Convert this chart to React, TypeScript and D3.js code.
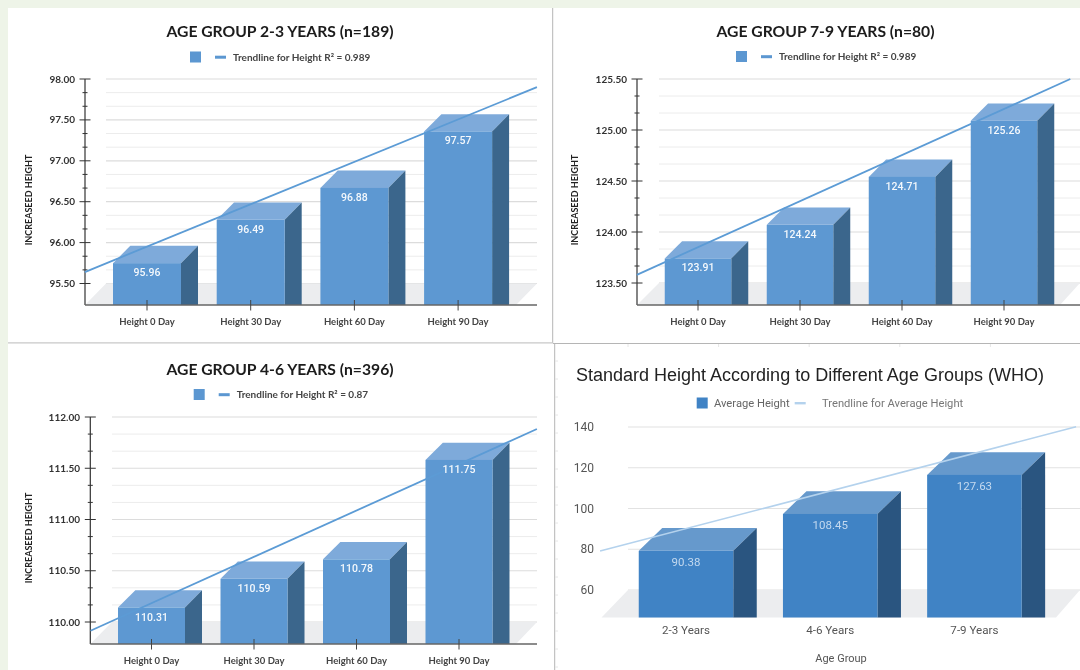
import React from "react";
import * as d3 from "d3";

const dayLabels = ["Height 0 Day", "Height 30 Day", "Height 60 Day", "Height 90 Day"];
const ageLabels = ["2-3 Years", "4-6 Years", "7-9 Years"];

const values2to3 = [95.96, 96.49, 96.88, 97.57];
const values7to9 = [123.91, 124.24, 124.71, 125.26];
const values4to6 = [110.31, 110.59, 110.78, 111.75];
const valuesWho = [90.38, 108.45, 127.63];

const trendIdx2to3 = [-0.6, 3.76];
const trendVal2to3 = [95.64, 97.9];
const trendIdx7to9 = [-0.6, 3.65];
const trendVal7to9 = [123.58, 125.5];
const trendIdx4to6 = [-0.595, 3.76];
const trendVal4to6 = [109.915, 111.883];
const trendIdxWho = [-0.596, 2.705];
const trendValWho = [79.1, 140.1];

const ticks2to3 = [95.5, 96, 96.5, 97, 97.5, 98];
const ticks7to9 = [123.5, 124, 124.5, 125, 125.5];
const ticks4to6 = [110, 110.5, 111, 111.5, 112];
const ticksWho = [60, 80, 100, 120, 140];

const CAL = "Lato, 'Open Sans', sans-serif";
const ROB = "Roboto, 'Liberation Sans', sans-serif";

type PanelCfg = {
  cats: string[]; vals: number[]; trendIdx: number[]; trendVal: number[]; ticks: number[];
  yLo: number; yHi: number; axisX: number; baseY: number; floorDx: number; rightX: number; floorRightBottom: number;
  c0: number; step: number; barW: number; dx: number; dy: number;
};

function ExcelPanel({ p, title, titleX, titleY, legendText, lx, ly, labelX, axisTitleX, axisTitleY, catY }: any) {
  const cfg: PanelCfg = p;
  const y = d3.scaleLinear().domain([cfg.ticks[0], cfg.ticks[cfg.ticks.length - 1]]).range([cfg.yLo, cfg.yHi]);
  const n = cfg.cats.length;
  const x = d3.scaleBand().domain(cfg.cats)
    .range([cfg.c0 - cfg.step / 2, cfg.c0 + (n - 0.5) * cfg.step])
    .paddingInner(1 - cfg.barW / cfg.step).paddingOuter((1 - cfg.barW / cfg.step) / 2);
  const tx = d3.scaleLinear().domain([0, n - 1]).range([cfg.c0, cfg.c0 + (n - 1) * cfg.step]);
  const trend = d3.line<number>().x((d) => tx(d)).y((_, i) => y(cfg.trendVal[i]));
  const lo = cfg.ticks[0];
  const minor = d3.range(0, (cfg.ticks.length - 1) * 3 + 1).map((i) => lo + (i * 0.5) / 3);
  const isMajor = (i: number) => i % 3 === 0;
  const gx0 = cfg.axisX + cfg.floorDx;
  return (
    <g>
      <text x={titleX} y={titleY} textAnchor="middle" fontFamily={CAL} fontSize={15.7} fontWeight={700} fill="#1a1a1a">{title}</text>
      <rect x={lx} y={ly} width={11} height={11} fill="#5b97d1" />
      <rect x={lx + 25} y={ly + 4.2} width={11} height={3} fill="#5b97d1" />
      <text x={lx + 43} y={ly + 9} fontFamily={CAL} fontSize={10} fontWeight={700} fill="#444">{legendText}</text>

      {minor.map((v, i) => (
        <line key={i} x1={gx0} x2={cfg.rightX} y1={y(v)} y2={y(v)} stroke={isMajor(i) ? "#dcdcdc" : "#ececec"} strokeWidth={isMajor(i) ? 1.2 : 1} />
      ))}
      <polygon fill="#ecedef" points={`${cfg.axisX},${cfg.baseY} ${gx0},${y(lo)} ${cfg.rightX},${y(lo)} ${cfg.floorRightBottom},${cfg.baseY}`} />

      {cfg.cats.map((c, i) => {
        const l = x(c)!; const r = l + x.bandwidth(); const bt = y(cfg.vals[i]); const ft = bt + cfg.dy;
        return (
          <g key={c}>
            <polygon fill="#7eaada" points={`${l},${ft} ${l + cfg.dy},${bt} ${r + cfg.dx},${bt} ${r},${ft}`} />
            <polygon fill="#3a668c" points={`${r},${ft} ${r + cfg.dx},${bt} ${r + cfg.dx},${cfg.baseY} ${r},${cfg.baseY}`} />
            <rect x={l} y={ft} width={x.bandwidth()} height={cfg.baseY - ft} fill="#5d98d2" />
          </g>
        );
      })}

      <line x1={cfg.axisX} x2={cfg.axisX} y1={cfg.yHi} y2={cfg.baseY} stroke="#333" strokeWidth={1.2} />
      <line x1={cfg.axisX} x2={cfg.rightX} y1={cfg.baseY} y2={cfg.baseY} stroke="#666" strokeWidth={1.4} />
      {minor.map((v, i) => (
        <line key={i} x1={cfg.axisX - (isMajor(i) ? 5.5 : 2.5)} x2={cfg.axisX + (isMajor(i) ? 5.5 : 2.5)} y1={y(v)} y2={y(v)} stroke="#333" strokeWidth={1} />
      ))}
      {cfg.ticks.map((v) => (
        <text key={v} x={labelX} y={y(v) + 3.5} textAnchor="end" fontFamily={CAL} fontSize={10} fontWeight={700} fill="#333">{d3.format(".2f")(v)}</text>
      ))}
      <text transform={`translate(${axisTitleX},${axisTitleY}) rotate(-90)`} textAnchor="middle" fontFamily={CAL} fontSize={9} fontWeight={700} fill="#222">INCREASEED HEIGHT</text>
      {cfg.cats.map((c, i) => (
        <g key={c}>
          <line x1={tx(i)} x2={tx(i)} y1={cfg.baseY - 5} y2={cfg.baseY + 5.5} stroke="#444" strokeWidth={1} />
          <text x={tx(i)} y={catY} textAnchor="middle" fontFamily={CAL} fontSize={9.5} fontWeight={700} fill="#444">{c}</text>
        </g>
      ))}
      <path d={trend(cfg.trendIdx) || ""} fill="none" stroke="#5b9bd5" strokeWidth={1.8} />
      {cfg.cats.map((c, i) => (
        <text key={c} x={tx(i)} y={y(cfg.vals[i]) + cfg.dy + 13} textAnchor="middle" fontFamily={ROB} fontSize={10.5} fontWeight={500} fill="#f4f8fc">{d3.format(".2f")(cfg.vals[i])}</text>
      ))}
    </g>
  );
}

function WhoPanel() {
  const y = d3.scaleLinear().domain([60, 140]).range([590, 427]);
  const c0 = 686, step = 144.2, barW = 94.5, dx = 23.5, dy = 22.7, baseY = 617.5, gx0 = 628, right = 1080;
  const x = d3.scaleBand().domain(ageLabels)
    .range([c0 - step / 2, c0 + 2.5 * step])
    .paddingInner(1 - barW / step).paddingOuter((1 - barW / step) / 2);
  const tx = d3.scaleLinear().domain([0, 2]).range([c0, c0 + 2 * step]);
  const trend = d3.line<number>().x((d) => tx(d)).y((_, i) => y(trendValWho[i]));
  return (
    <g>
      <text x={576} y={381} fontFamily="'Liberation Sans', Arial, sans-serif" fontSize={18} fill="#222">Standard Height According to Different Age Groups (WHO)</text>
      <rect x={696.7} y={397.5} width={11} height={11} fill="#3f83c5" />
      <text x={714} y={407} fontFamily={ROB} fontSize={11.2} fill="#666">Average Height</text>
      <rect x={794.7} y={402} width={11} height={2.4} fill="#b4d2ed" />
      <text x={822} y={407} fontFamily={ROB} fontSize={11.2} fill="#777">Trendline for Average Height</text>

      {ticksWho.map((v) => (
        <g key={v}>
          <line x1={gx0} x2={right} y1={y(v)} y2={y(v)} stroke="#e2e2e2" strokeWidth={1.2} />
          <text x={594} y={y(v) + 4} textAnchor="end" fontFamily={ROB} fontSize={12} fill="#555">{v}</text>
        </g>
      ))}
      <polygon fill="#ecedef" points={`601.5,${baseY} ${gx0},${y(60)} ${right},${y(60)} 1056,${baseY}`} />
      {ageLabels.map((c, i) => {
        const l = x(c)!; const r = l + x.bandwidth(); const bt = y(valuesWho[i]); const ft = bt + dy;
        return (
          <g key={c}>
            <polygon fill="#6699cc" points={`${l},${ft} ${l + dx},${bt} ${r + dx},${bt} ${r},${ft}`} />
            <polygon fill="#2a5580" points={`${r},${ft} ${r + dx},${bt} ${r + dx},${baseY} ${r},${baseY}`} />
            <rect x={l} y={ft} width={x.bandwidth()} height={baseY - ft} fill="#3f83c5" />
          </g>
        );
      })}
      <path d={trend(trendIdxWho) || ""} fill="none" stroke="#b4d2ed" strokeWidth={1.6} />
      {ageLabels.map((c, i) => (
        <g key={c}>
          <text x={tx(i)} y={y(valuesWho[i]) + dy + 15} textAnchor="middle" fontFamily={ROB} fontSize={11.5} fill="#c4d9ef">{d3.format(".2f")(valuesWho[i])}</text>
          <text x={tx(i)} y={633.5} textAnchor="middle" fontFamily={ROB} fontSize={11.6} fill="#555">{c}</text>
        </g>
      ))}
      <text x={841} y={662} textAnchor="middle" fontFamily={ROB} fontSize={11} fill="#555">Age Group</text>
    </g>
  );
}

const rulerRows = d3.range(0, 18);
const rulerCols = d3.range(0, 6);

export default function App() {
  const base = { dx: 17, dy: 17.3 };
  return (
    <svg width={1080} height={670} style={{ position: "absolute", left: 0, top: 0, display: "block" }}>
      <defs>
        <filter id="soft" filterUnits="userSpaceOnUse" x={0} y={0} width={1080} height={670}>
          <feGaussianBlur stdDeviation={0.4} />
        </filter>
      </defs>
      <rect width={1080} height={670} fill="#eef4e8" />
      <rect x={8} y={8} width={1072} height={662} fill="#fff" />
      <g filter="url(#soft)">
        <line x1={552.7} x2={552.7} y1={8} y2={343} stroke="#b5b5b5" />
        <line x1={8} x2={553} y1={342.8} y2={342.8} stroke="#c8c8c8" strokeWidth={1.2} />
        <line x1={553} x2={1080} y1={343.5} y2={343.5} stroke="#b5b5b5" />
        <line x1={554.7} x2={554.7} y1={343} y2={670} stroke="#b5b5b5" />
        {rulerRows.map((i) => (
          <line key={i} x1={555} x2={558} y1={361 + i * 18} y2={361 + i * 18} stroke="#e6e6e6" />
        ))}
        {rulerCols.map((i) => (
          <line key={i} x1={628 + i * 90.6} x2={628 + i * 90.6} y1={344} y2={347} stroke="#e6e6e6" />
        ))}

        <ExcelPanel
          p={{ ...base, cats: dayLabels, vals: values2to3, trendIdx: trendIdx2to3, trendVal: trendVal2to3, ticks: ticks2to3,
            yLo: 283.5, yHi: 79, axisX: 85, baseY: 305, floorDx: 21, rightX: 537, floorRightBottom: 516, c0: 147, step: 103.7, barW: 68 }}
          title="AGE GROUP 2-3 YEARS (n=189)" titleX={280} titleY={36.5}
          legendText="Trendline for Height  R² = 0.989" lx={190} ly={51.5}
          labelX={75} axisTitleX={32} axisTitleY={200} catY={324.5} />
        <ExcelPanel
          p={{ ...base, cats: dayLabels, vals: values7to9, trendIdx: trendIdx7to9, trendVal: trendVal7to9, ticks: ticks7to9,
            yLo: 283, yHi: 79, axisX: 637, baseY: 305, floorDx: 22, rightX: 1080, floorRightBottom: 1060, c0: 698, step: 102, barW: 66.5 }}
          title="AGE GROUP 7-9 YEARS (n=80)" titleX={825.5} titleY={36.5}
          legendText="Trendline for Height  R² = 0.989" lx={736} ly={51}
          labelX={627} axisTitleX={578} axisTitleY={200} catY={324.5} />
        <ExcelPanel
          p={{ ...base, cats: dayLabels, vals: values4to6, trendIdx: trendIdx4to6, trendVal: trendVal4to6, ticks: ticks4to6,
            yLo: 622, yHi: 417, axisX: 90.3, baseY: 644, floorDx: 21.7, rightX: 537, floorRightBottom: 516, c0: 151.5, step: 102.5, barW: 67 }}
          title="AGE GROUP 4-6 YEARS (n=396)" titleX={280} titleY={374.5}
          legendText="Trendline for Height R² = 0.87" lx={193.7} ly={389}
          labelX={80} axisTitleX={32} axisTitleY={538} catY={663.5} />
        <WhoPanel />
      </g>
    </svg>
  );
}
